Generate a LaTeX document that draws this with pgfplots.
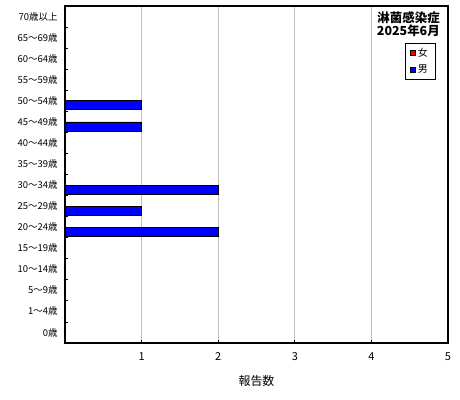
\documentclass[border=0pt]{standalone}
\usepackage{fontspec}
\setmainfont{Noto Sans CJK JP}
\usepackage{pgfplots}
\pgfplotsset{compat=1.18}
\definecolor{barred}{RGB}{255,0,0}
\definecolor{barblue}{RGB}{0,0,255}
\definecolor{gridgray}{RGB}{192,192,192}
\begin{document}
\begin{tikzpicture}
\path[use as bounding box] (0,0) rectangle (460bp,400bp);
\begin{axis}[
  at={(65bp,57bp)}, anchor=south west,
  scale only axis, width=383bp, height=337bp,
  xmin=0, xmax=5, ymin=-0.5, ymax=15.5,
  xtick={1,2,3,4,5},
  xmajorgrids, major grid style={gridgray, line width=0.8bp},
  ytick={0,...,15},
  yticklabels={0歳,1～4歳,5～9歳,10～14歳,15～19歳,20～24歳,25～29歳,30～34歳,35～39歳,40～44歳,45～49歳,50～54歳,55～59歳,60～64歳,65～69歳,70歳以上},
  minor ytick={0.5,1.5,...,14.5},
  major tick length=3bp,
  minor tick length=3bp,
  major y tick style={draw=none},
  tick align=inside,
  xtick pos=bottom, ytick pos=left,
  axis line style={line width=1.2bp},
  every tick/.style={black, line width=0.8bp},
  yticklabel style={font=\fontsize{9.5}{11}\selectfont, xshift=-4bp},
  xticklabel style={font=\fontsize{11}{12}\selectfont, yshift=-6bp},
  /pgf/number format/assume math mode=true,
  xlabel={報告数},
  xlabel style={font=\fontsize{12}{13}\selectfont, yshift=-8bp},
  legend style={at={(0.966,0.890)}, anchor=north east, draw=black,
    font=\fontsize{10}{11}\selectfont, inner xsep=5bp, inner ysep=2.5bp,
    row sep=3.5bp, cells={anchor=west}},
  legend image code/.code={\draw[#1, draw=black, line width=0.5bp] (0bp,-2.8bp) rectangle (5.6bp,2.8bp);},
]
\addplot[xbar, fill=barred, draw=black, line width=0.6bp, bar width=9bp, bar shift=4.5bp]
  coordinates {(0,0) (0,1) (0,2) (0,3) (0,4) (0,5) (0,6) (0,7) (0,8) (0,9) (0,10) (0,11) (0,12) (0,13) (0,14) (0,15)};
\addplot[xbar, fill=barblue, draw=black, line width=0.6bp, bar width=9bp, bar shift=-4.5bp]
  coordinates {(0,0) (0,1) (0,2) (0,3) (0,4) (2,5) (1,6) (2,7) (0,8) (0,9) (1,10) (1,11) (0,12) (0,13) (0,14) (0,15)};
\legend{女,男}
\node[anchor=north east, align=right, font=\fontsize{12.5}{13}\selectfont\bfseries, inner sep=0pt]
  at (rel axis cs:0.979,0.985) {淋菌感染症\\2025年6月};
\end{axis}
\end{tikzpicture}
\end{document}
